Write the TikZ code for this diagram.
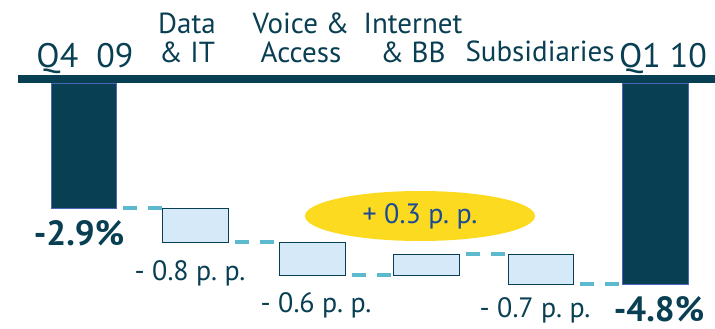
\documentclass[tikz,border=0pt]{standalone}
\usepackage{fontspec}
\setmainfont{PT Sans}
\usetikzlibrary{shapes.geometric}
\definecolor{darkteal}{HTML}{083F52}
\definecolor{edgeblue}{HTML}{4A66B8}
\definecolor{dashblue}{HTML}{5DB9CE}
\definecolor{boxfill}{HTML}{D6E9F8}
\definecolor{ovalyellow}{HTML}{FBDA1F}
\definecolor{ovaltext}{HTML}{1B4A96}
\tikzset{
    rule/.style={darkteal,line width=8pt},
    total/.style={fill=darkteal,draw=edgeblue,line width=0.6pt,inner sep=0pt,outer sep=0pt,anchor=north west},
    delta/.style={fill=boxfill,draw=darkteal,line width=0.8pt,inner sep=0pt,outer sep=0pt,anchor=north west},
    bridge/.style={dashblue,line width=3.5pt,dash pattern=on 14pt off 11pt,dash phase=18pt},
    head/.style={text=darkteal,font=\fontsize{29}{29}\selectfont,align=center,inner sep=0pt,anchor=north},
    period/.style={text=darkteal,font=\fontsize{34}{34}\selectfont,inner sep=0pt,anchor=base},
    result/.style={text=darkteal,font=\fontsize{35}{35}\selectfont\bfseries,inner sep=0pt,text depth=0pt,anchor=base},
    change/.style={text=darkteal,font=\fontsize{28}{28}\selectfont,inner sep=0pt,anchor=base},
    oval/.style={ellipse,fill=ovalyellow,text=ovaltext,font=\fontsize{28}{28}\selectfont,inner sep=0pt,minimum width=230pt,minimum height=50pt}
}
\begin{document}
\begin{tikzpicture}[x=1pt,y=-1pt]
  \useasboundingbox (0,0) rectangle (715,329);

  % Headings
  \node[period] (q4h) at (85,67) {Q4~~09};
  \node[head] (datah) at (187,13) {Data\\\& IT};
  \node[head] (voiceh) at (301,13) {Voice \&\\Access};
  \node[head] (ineth) at (413,13) {Internet\\\& BB};
  \node[period,font=\fontsize{29}{29}\selectfont] (subsh) at (540,62) {Subsidiaries};
  \node[period] (q1h) at (663,67) {Q1 10};

  % Axis
  \coordinate (axl) at (18,79);
  \coordinate (axr) at (715,79);
  \draw[rule] (axl) -- (axr);

  % Totals
  \node[total,minimum width=65pt,minimum height=125pt] (q4) at (51,83) {};
  \node[total,minimum width=66pt,minimum height=201pt] (q1) at (622,83) {};

  % Steps
  \node[delta,minimum width=66pt,minimum height=34pt] (data) at (162,208) {};
  \node[delta,minimum width=66pt,minimum height=33pt] (voice) at (279,242) {};
  \node[delta,minimum width=66pt,minimum height=21pt] (inet) at (393,254) {};
  \node[delta,minimum width=65pt,minimum height=30pt] (subs) at (508,254) {};

  % Bridges
  \draw[bridge] (q4.south east) -- (data.north west);
  \draw[bridge] (data.south east) -- (voice.north west);
  \draw[bridge] (voice.south east) -- (inet.south west);
  \draw[bridge] (inet.north east) -- (subs.north west);
  \draw[bridge] (subs.south east) -- (q1.south west);

  % Values
  \node[result] (q4v) at (79,245) {-2.9\%};
  \node[result] (q1v) at (659,321) {-4.8\%};
  \node[change] (datav) at (190,280) {- 0.8 p.\ p.};
  \node[change] (voicev) at (316,312) {- 0.6 p.\ p.};
  \node[change] (subsv) at (535,317) {- 0.7 p.\ p.};
  \node[oval] (inetv) at (420,216) {+ 0.3 p.\ p.};
\end{tikzpicture}
\end{document}
